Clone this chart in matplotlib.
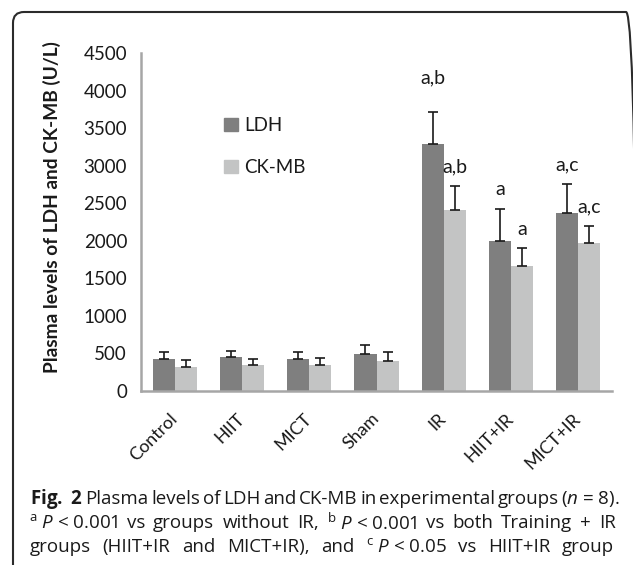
import matplotlib
matplotlib.use('Agg')
import matplotlib.pyplot as plt
import numpy as np
from matplotlib.patches import FancyBboxPatch, Patch
from matplotlib.transforms import IdentityTransform, offset_copy

# ---------------- data ----------------
groups = ["Control", "HIIT", "MICT", "Sham", "IR", "HIIT+IR", "MICT+IR"]
ldh = [422, 449, 426, 493, 3290, 2000, 2375]
ldh_err = [95, 88, 97, 115, 420, 427, 385]
ckmb = [318, 346, 350, 399, 2405, 1670, 1975]
ckmb_err = [95, 84, 94, 116, 330, 237, 225]
ldh_sig = ["", "", "", "", "a,b", "a", "a,c"]
ckmb_sig = ["", "", "", "", "a,b", "a", "a,c"]
series_names = ["LDH", "CK-MB"]
yticks = [0, 500, 1000, 1500, 2000, 2500, 3000, 3500, 4000, 4500]
ylabel = "Plasma levels of LDH and CK-MB (U/L)"

# ---------------- style ----------------
W, H = 633, 565
plt.rcParams['font.family'] = ['Lato', 'DejaVu Sans']
plt.rcParams['mathtext.fontset'] = 'custom'
plt.rcParams['mathtext.rm'] = 'Open Sans'
plt.rcParams['mathtext.it'] = 'Open Sans:italic'
plt.rcParams['mathtext.bf'] = 'Open Sans:bold'

c_ldh = '#7f7f7f'
c_ck = '#c3c4c4'
spine_c = '#a6a6a6'
txt_c = '#1a1a1a'

fig = plt.figure(figsize=(W / 100, H / 100), dpi=100)
fig.patch.set_facecolor('white')

ax_l, ax_r, ax_t, ax_b = 141, 612, 53, 391
ax = fig.add_axes([ax_l / W, (H - ax_b) / H, (ax_r - ax_l) / W, (ax_b - ax_t) / H])

x = np.arange(len(groups))
bw = 0.327
ax.bar(x - bw / 2, ldh, bw, color=c_ldh, zorder=2)
ax.bar(x + bw / 2, ckmb, bw, color=c_ck, zorder=2)
err_kw = dict(fmt='none', ecolor=txt_c, elinewidth=1.2, capsize=3.3, capthick=1.2, zorder=3)
ax.errorbar(x - bw / 2, ldh, yerr=[np.zeros(len(ldh)), ldh_err], **err_kw)
ax.errorbar(x + bw / 2, ckmb, yerr=[np.zeros(len(ckmb)), ckmb_err], **err_kw)

sig_kw = dict(textcoords='offset points', ha='center', va='center', fontsize=14, color=txt_c)
for i, (xi, v, e, s) in enumerate(zip(x - bw / 2, ldh, ldh_err, ldh_sig)):
    if s:
        off = 25 if i == 4 else 13.5
        ax.annotate(s, (xi, v + e), xytext=(0, off), **sig_kw)
for xi, v, e, s in zip(x + bw / 2, ckmb, ckmb_err, ckmb_sig):
    if s:
        ax.annotate(s, (xi, v + e), xytext=(0, 13.5), **sig_kw)

ax.set_xlim(-0.5, len(groups) - 0.5)
ax.set_ylim(0, 4500)
ax.set_yticks(yticks)
ax.set_yticklabels([str(t) for t in yticks], fontsize=13.5, color=txt_c)
ax.tick_params(axis='y', length=0, pad=10)
ax.tick_params(axis='x', length=0, pad=0)
ax.set_xticks(x)
ax.set_xticklabels(groups, rotation=45, ha='right', va='center',
                   rotation_mode='anchor', fontsize=13, color=txt_c)
for lab in ax.get_xticklabels():
    lab.set_transform(offset_copy(lab.get_transform(), fig=fig, x=0, y=-25, units='dots'))
for sp in ['top', 'right']:
    ax.spines[sp].set_visible(False)
for sp in ['left', 'bottom']:
    ax.spines[sp].set_color(spine_c)
    ax.spines[sp].set_linewidth(1.8)

handles = [Patch(color=c_ldh), Patch(color=c_ck)]
leg = ax.legend(handles, series_names, loc='center left',
                bbox_to_anchor=((224 - ax_l) / (ax_r - ax_l), (ax_b - 146.5) / (ax_b - ax_t)),
                frameon=False, fontsize=13.5, handlelength=0.72, handleheight=0.72,
                handletextpad=0.35, labelspacing=1.35, borderaxespad=0, borderpad=0)
for t in leg.get_texts():
    t.set_color(txt_c)

fig.text(52 / W, (H - 207) / H, ylabel, rotation=90, ha='center', va='center',
         fontsize=13.8, fontweight='bold', color=txt_c)

# ---------------- border ----------------
border = FancyBboxPatch((13, -30), 637 - 13, (H - 12) + 30,
                        boxstyle='round,pad=0,rounding_size=11',
                        transform=IdentityTransform(), fill=False, edgecolor='#2b2b2b',
                        linewidth=1.5, clip_on=False)
fig.add_artist(border)

# ---------------- caption ----------------
cap_kw = dict(fontsize=13.5, family='Open Sans', color=txt_c, va='center',
              transform=IdentityTransform())
renderer = fig.canvas.get_renderer()


def justified(tokens, x0, x1, y_img):
    ts = [fig.text(0, 0, t, **cap_kw) for t in tokens]
    ws = [t.get_window_extent(renderer).width for t in ts]
    gap = (x1 - x0 - sum(ws)) / (len(ts) - 1)
    xx = x0
    for t, w in zip(ts, ws):
        t.set_position((xx, H - y_img))
        xx += w + gap


line1 = [r"$\mathbf{Fig.\ 2}$", "Plasma", "levels", "of", "LDH", "and", "CK-MB", "in",
         "experimental", "groups", r"($\mathit{n}$ = 8)."]
line2 = [r"$^{\mathrm{a}}$ $\mathit{P}$ < 0.001", "vs", "groups", "without", "IR,",
         r"$^{\mathrm{b}}$ $\mathit{P}$ < 0.001", "vs", "both", "Training", "+", "IR"]
line3 = ["groups", "(HIIT+IR", "and", "MICT+IR),", "and", r"$^{\mathrm{c}}$ $\mathit{P}$ < 0.05",
         "vs", "HIIT+IR", "group"]

justified(line1, 30, 620, 499)
justified(line2, 29, 616, 523)
justified(line3, 30, 614, 547)

fig.savefig('out.png', dpi=100)
